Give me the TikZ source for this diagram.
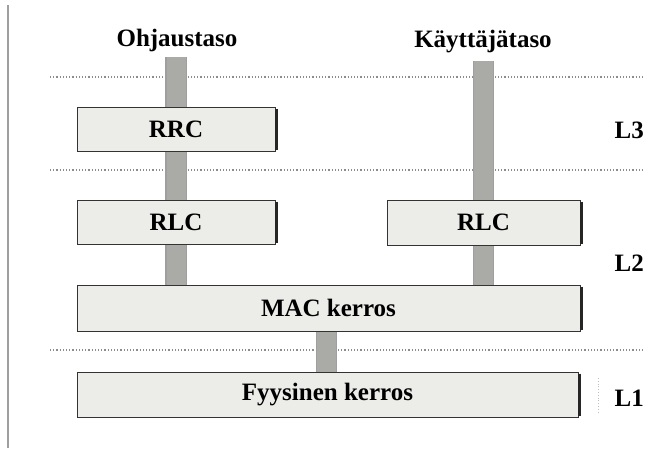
\documentclass[tikz,border=0pt]{standalone}
\usepackage{fontspec}
\setmainfont{Liberation Serif}
\usetikzlibrary{backgrounds}
\definecolor{layergray}{RGB}{236,236,233}
\definecolor{pillargray}{RGB}{170,170,167}

\tikzset{
  layer/.style={draw=black!80, line width=0.8pt, fill=layergray, inner sep=0pt,
                font=\fontsize{25}{29}\selectfont\bfseries},
  pillar/.style={draw=gray!75, line width=1.2pt, double=pillargray, double distance=19pt},
  shade edge/.style={line width=3pt, black!85},
  sep/.style={dotted, line width=1.2pt, gray!90},
  plane/.style={font=\fontsize{25}{29}\selectfont\bfseries},
}

\begin{document}
\begin{tikzpicture}[x=1pt,y=-1pt]
    \useasboundingbox (0,0) rectangle (645,448);

    % page edge on the left
    \draw[gray!75, line width=1.5pt] (8,5) -- (8,448);

    % plane titles
    \node[plane] (ohj) at (177,40) {Ohjaustaso};
    \node[plane] (kay) at (483,42) {Käyttäjätaso};

    % layer names
    \node[plane, anchor=east, inner sep=0pt] (l3) at (644,130) {L3};
    \node[plane, anchor=east, inner sep=0pt] (l2) at (644,263) {L2};
    \node[plane, anchor=east, inner sep=0pt] (l1) at (644,398) {L1};

    % protocol blocks
    \node[layer, minimum width=198pt, minimum height=44pt] (rrc) at (176,129) {RRC};
    \node[layer, minimum width=198pt, minimum height=44pt] (rlcc) at (176,222) {RLC};
    \node[layer, minimum width=193pt, minimum height=45pt] (rlcu) at (483.5,222.5) {RLC};
    \node[layer, minimum width=503pt, minimum height=46pt] (mac) at (328.5,308) {MAC kerros};
    \node[layer, minimum width=501pt, minimum height=45pt] (phy) at (327.5,394.5) {Fyysinen kerros};

    % dark right edges
    \foreach \b in {rrc,rlcc,rlcu,mac,phy}
        \draw[shade edge] ([xshift=1pt,yshift=-2pt]\b.north east) -- ([xshift=1pt,yshift=1pt]\b.south east);

    \begin{scope}[on background layer]
        % layer separators
        \draw[sep] (50,77) -- (645,77);
        \draw[sep] (50,170) -- (645,170);
        \draw[sep] (50,350) -- (645,350);
        \draw[dotted, gray!50, line width=0.8pt] (598,378) -- (598,412);

        % pillars behind the blocks
        \draw[pillar] ([yshift=-2pt]rrc.center |- ohj.south) -- (rrc.center |- mac.north);
        \draw[pillar] ([yshift=-4pt]rlcu.center |- kay.south) -- (rlcu.center |- mac.north);
        \draw[pillar] ([xshift=-2pt]mac.south) -- ([xshift=-2pt]mac.south |- phy.north);
    \end{scope}
\end{tikzpicture}
\end{document}
